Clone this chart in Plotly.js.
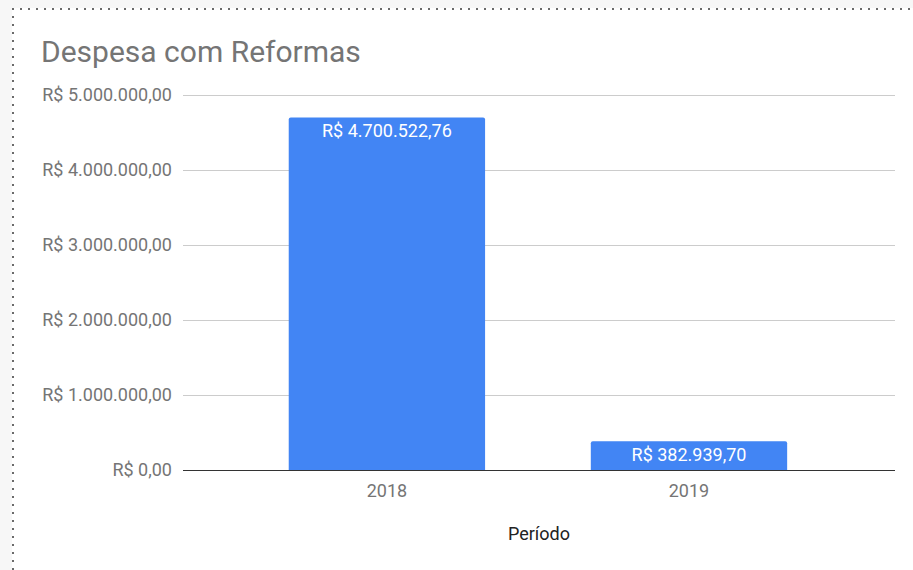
<!DOCTYPE html>
<html>
<head>
<meta charset="utf-8">
<script src="https://cdn.plot.ly/plotly-3.0.1.min.js"></script>
<style>
  html, body { margin: 0; padding: 0; background: #f7f7f7; width: 913px; height: 570px; overflow: hidden; }
  #frame { position: absolute; left: 12px; top: 8px; width: 901px; height: 562px; background-color: #ffffff;
    background-image: linear-gradient(to right, #6a6a6a 2px, transparent 2px), linear-gradient(to bottom, #6a6a6a 2px, transparent 2px);
    background-size: 8px 2px, 2px 8px; background-repeat: repeat-x, repeat-y; background-position: 0 0, 0 0; }
  #chart { position: absolute; left: 0; top: 0; width: 913px; height: 570px; }
</style>
</head>
<body>
<div id="frame"></div>
<div id="chart"></div>
<script>
const categories = ['2018', '2019'];
const values = [4700522.76, 382939.70];
const valueLabels = ['R$ 4.700.522,76', 'R$ 382.939,70'];
const yTickVals = [0, 1000000, 2000000, 3000000, 4000000, 5000000];
const yTickText = ['R$ 0,00', 'R$ 1.000.000,00', 'R$ 2.000.000,00', 'R$ 3.000.000,00', 'R$ 4.000.000,00', 'R$ 5.000.000,00'];

const trace = {
  type: 'bar',
  x: categories,
  y: values,
  text: valueLabels,
  textposition: 'inside',
  insidetextanchor: 'end',
  textangle: 0,
  textfont: { family: 'Roboto', size: 18, color: '#ffffff' },
  marker: { color: '#4285f4' },
  width: 0.65,
  hoverinfo: 'none'
};

const layout = {
  width: 913, height: 570,
  paper_bgcolor: 'rgba(0,0,0,0)',
  plot_bgcolor: 'rgba(0,0,0,0)',
  margin: { l: 183, r: 18, t: 90, b: 100 },
  font: { family: 'Roboto', color: '#757575' },
  title: { text: 'Despesa com Reformas', x: 41 / 913, xref: 'container', xanchor: 'left', y: 1, yref: 'container', yanchor: 'top',
           pad: { t: 41 }, font: { family: 'Roboto', size: 30, color: '#757575' } },
  barcornerradius: 2,
  showlegend: false,
  xaxis: {
    type: 'category',
    range: [-0.675, 1.682],
    showgrid: false, zeroline: false, showline: false,
    ticks: '',
    ticklabelstandoff: 8,
    tickfont: { family: 'Roboto', size: 18, color: '#757575' },
    title: { text: 'Período', standoff: 27, font: { family: 'Roboto', size: 18, color: '#222222' } },
    fixedrange: true
  },
  yaxis: {
    range: [0, 5066667],
    tickvals: yTickVals,
    ticktext: yTickText,
    showgrid: true, gridcolor: '#cccccc', gridwidth: 1,
    zeroline: true, zerolinecolor: '#333333', zerolinewidth: 1,
    showline: false, ticks: '',
    ticklabelstandoff: 10,
    tickfont: { family: 'Roboto', size: 18, color: '#757575' },
    fixedrange: true
  }
};

Plotly.newPlot('chart', [trace], layout, { displayModeBar: false, staticPlot: true });
</script>
</body>
</html>
